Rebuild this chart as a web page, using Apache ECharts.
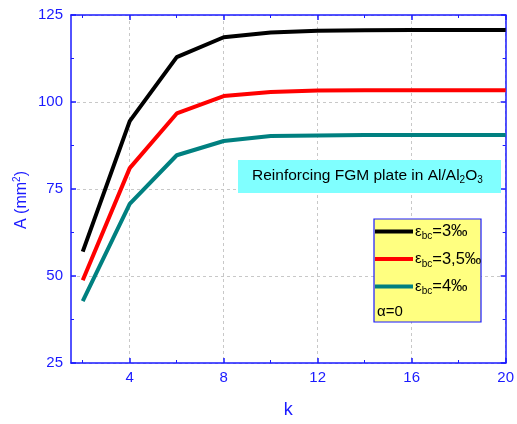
<!DOCTYPE html>
<html><head><meta charset="utf-8">
<script src="https://cdn.jsdelivr.net/npm/echarts@6/dist/echarts.min.js"></script>
<style>html,body{margin:0;padding:0;background:#fff}#c{width:517px;height:424px}</style>
</head><body><div id="c"></div>
<script>
const kValues = [2, 4, 6, 8, 10, 12, 14, 16, 18, 20];
const eps3 = [57.0, 94.5, 112.9, 118.6, 120.0, 120.5, 120.6, 120.7, 120.7, 120.7];
const eps35 = [48.8, 81.0, 96.7, 101.7, 102.9, 103.3, 103.4, 103.4, 103.4, 103.4];
const eps4 = [42.8, 70.7, 84.7, 88.8, 90.2, 90.4, 90.5, 90.5, 90.5, 90.5];
const xMajorTicks = [4, 8, 12, 16, 20];
const xMinorTicks = [2, 6, 10, 14, 18];
const seriesNames = ['ε_bc=3‰', 'ε_bc=3,5‰', 'ε_bc=4‰'];

const BLUE = '#1a1aff';
const FONT = 'Liberation Sans, Arial, sans-serif';
const chart = echarts.init(document.getElementById('c'));
const zip = v => kValues.map((k, i) => [k, v[i]]);
const baseX = {type: 'value', min: 1.5, max: 20, gridIndex: 0};
const legendRich = {
  e: {fontSize: 15, fontFamily: FONT, color: '#000'},
  s: {fontSize: 10, fontFamily: FONT, color: '#000', padding: [10, 0, 0, 0]},
  n: {fontSize: 16.5, fontFamily: FONT, color: '#000'}
};
chart.setOption({
  animation: false,
  grid: {left: 71, right: 9, top: 15, bottom: 59},
  xAxis: [
    Object.assign({}, baseX, {
      position: 'bottom',
      axisLine: {lineStyle: {color: BLUE, width: 1.5}},
      axisTick: {inside: true, length: 5, customValues: xMajorTicks, lineStyle: {color: BLUE, width: 1.5}},
      axisLabel: {customValues: xMajorTicks, color: BLUE, fontSize: 15, fontFamily: FONT, margin: 7},
      splitLine: {show: true, lineStyle: {color: '#c8c8c8', type: [3, 3], width: 1}},
      name: 'k', nameLocation: 'middle', nameGap: 38,
      nameTextStyle: {color: BLUE, fontSize: 18, fontFamily: FONT}
    }),
    Object.assign({}, baseX, {
      position: 'bottom',
      axisLine: {show: false},
      axisTick: {inside: true, length: 3, customValues: xMinorTicks, lineStyle: {color: BLUE, width: 1}},
      axisLabel: {show: false},
      splitLine: {show: false}
    }),
    Object.assign({}, baseX, {
      position: 'top',
      axisLine: {lineStyle: {color: BLUE, width: 1.5}},
      axisTick: {inside: true, length: 5, customValues: xMajorTicks, lineStyle: {color: BLUE, width: 1.5}},
      axisLabel: {show: false},
      splitLine: {show: false}
    }),
    Object.assign({}, baseX, {
      position: 'top',
      axisLine: {show: false},
      axisTick: {inside: true, length: 3, customValues: xMinorTicks, lineStyle: {color: BLUE, width: 1}},
      axisLabel: {show: false},
      splitLine: {show: false}
    })
  ],
  yAxis: [
    {
      type: 'value', min: 25, max: 125, interval: 25, position: 'left',
      axisLine: {show: true, lineStyle: {color: BLUE, width: 1.5}},
      axisTick: {show: true, inside: true, length: 5, lineStyle: {color: BLUE, width: 1.5}},
      minorTick: {show: true, splitNumber: 2, length: 3, lineStyle: {color: BLUE, width: 1}},
      axisLabel: {color: BLUE, fontSize: 15, fontFamily: FONT, margin: 8},
      splitLine: {show: true, lineStyle: {color: '#c8c8c8', type: [3, 3], width: 1}}
    },
    {
      type: 'value', min: 25, max: 125, interval: 25, position: 'right',
      axisLine: {show: true, lineStyle: {color: BLUE, width: 1.5}},
      axisTick: {show: true, inside: true, length: 5, lineStyle: {color: BLUE, width: 1.5}},
      minorTick: {show: true, splitNumber: 2, length: 3, lineStyle: {color: BLUE, width: 1}},
      axisLabel: {show: false},
      splitLine: {show: false}
    }
  ],
  legend: {
    z: 60, zlevel: 0,
    left: 374, top: 223, orient: 'vertical', itemGap: 9,
    icon: 'rect', itemWidth: 38, itemHeight: 4, padding: [0, 0, 0, 1],
    data: seriesNames,
    formatter: n => {
      const p = n.split('=');
      return '{e|ε}{s|bc}{n|=' + p[1] + '}';
    },
    textStyle: {rich: legendRich, padding: [0, 0, 0, -3]}
  },
  graphic: [
    {type: 'rect', z: 50, shape: {x: 238, y: 160, width: 263, height: 33}, style: {fill: '#80ffff'}},
    {type: 'text', z: 51, x: 252, y: 176, style: {
      text: '{t|Reinforcing FGM plate in Al/Al}{s|2}{t|O}{s|3}',
      verticalAlign: 'middle',
      rich: {
        t: {fontSize: 15.5, fontFamily: FONT, fill: '#000'},
        s: {fontSize: 10, fontFamily: FONT, fill: '#000', padding: [9, 0, 0, 0]}
      }
    }},
    {type: 'rect', z: 50, shape: {x: 374, y: 219, width: 107, height: 103}, style: {fill: '#ffff80', stroke: BLUE, lineWidth: 1.2}},
    {type: 'text', z: 51, x: 377, y: 312, style: {text: 'α=0', fontSize: 15, fontFamily: FONT, fill: '#000', verticalAlign: 'middle'}},
    {type: 'text', z: 51, x: 22, y: 200, rotation: Math.PI / 2, style: {
      text: '{t|A (mm}{u|2}{t|)}', align: 'center', verticalAlign: 'middle',
      rich: {
        t: {fontSize: 16, fontFamily: FONT, fill: BLUE},
        u: {fontSize: 10, fontFamily: FONT, fill: BLUE, padding: [0, 0, 9, 0]}
      }
    }}
  ],
  series: [
    {name: seriesNames[0], type: 'line', data: zip(eps3), color: '#000000', lineStyle: {width: 4}, showSymbol: false, z: 3},
    {name: seriesNames[1], type: 'line', data: zip(eps35), color: '#ff0000', lineStyle: {width: 4}, showSymbol: false, z: 3},
    {name: seriesNames[2], type: 'line', data: zip(eps4), color: '#008080', lineStyle: {width: 4}, showSymbol: false, z: 3}
  ]
});
</script></body></html>
